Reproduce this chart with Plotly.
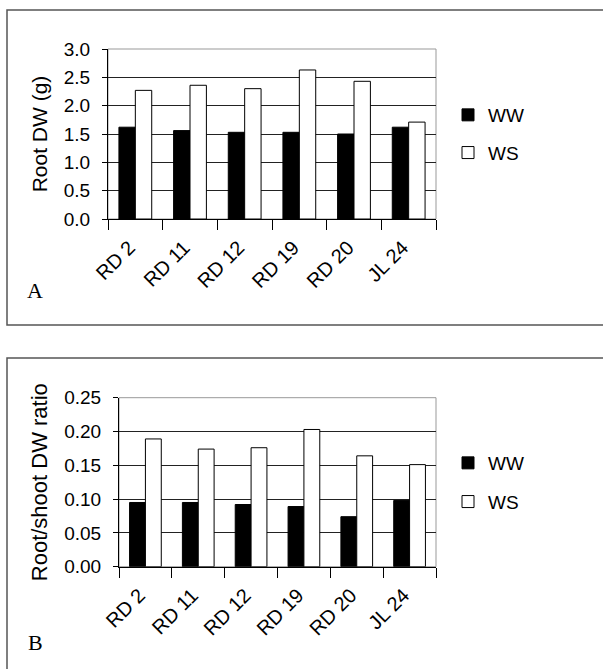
import plotly.graph_objects as go

categories = ["RD 2", "RD 11", "RD 12", "RD 19", "RD 20", "JL 24"]
root_dw_ww = [1.62, 1.56, 1.53, 1.53, 1.50, 1.62]
root_dw_ws = [2.27, 2.36, 2.30, 2.63, 2.43, 1.71]
ratio_ww = [0.095, 0.095, 0.092, 0.089, 0.074, 0.098]
ratio_ws = [0.189, 0.174, 0.176, 0.203, 0.164, 0.151]
series_names = ["WW", "WS"]

W, H = 603, 669
FONT = "Arial, Liberation Sans, sans-serif"

def px(x):
    return x / W

def py(y):
    return 1 - y / H

fig = go.Figure()

fig.add_trace(go.Bar(x=categories, y=root_dw_ww, name=series_names[0], xaxis="x", yaxis="y",
                     marker=dict(color="black", line=dict(color="black", width=1)),
                     legend="legend", legendgroup="a1"))
fig.add_trace(go.Bar(x=categories, y=root_dw_ws, name=series_names[1], xaxis="x", yaxis="y",
                     marker=dict(color="white", line=dict(color="black", width=1)),
                     legend="legend", legendgroup="a2"))
fig.add_trace(go.Bar(x=categories, y=ratio_ww, name=series_names[0], xaxis="x2", yaxis="y2",
                     marker=dict(color="black", line=dict(color="black", width=1)),
                     legend="legend2", legendgroup="b1"))
fig.add_trace(go.Bar(x=categories, y=ratio_ws, name=series_names[1], xaxis="x2", yaxis="y2",
                     marker=dict(color="white", line=dict(color="black", width=1)),
                     legend="legend2", legendgroup="b2"))

xcommon = dict(type="category", showline=True, linecolor="black", linewidth=1,
               ticks="outside", ticklen=10, tickcolor="black", tickson="boundaries",
               tickangle=-45, tickfont=dict(family=FONT, size=20, color="black"),
               ticklabelstandoff=8, ticklabelshift=-6,
               showgrid=False, zeroline=False, automargin=False)
ycommon = dict(showline=True, linecolor="black", linewidth=1, ticks="outside", ticklen=5,
               tickcolor="black", showgrid=True, gridcolor="#222", gridwidth=1,
               ticklabelstandoff=8,
               zeroline=False, tickfont=dict(family=FONT, size=19, color="black"), automargin=False)

legcommon = dict(xanchor="left", yanchor="middle", font=dict(family=FONT, size=19, color="black"),
                 traceorder="grouped", bgcolor="rgba(0,0,0,0)",
                 itemwidth=30, borderwidth=0)

fig.update_layout(
    width=W, height=H,
    margin=dict(l=0, r=0, t=0, b=0, pad=0, autoexpand=False),
    paper_bgcolor="white", plot_bgcolor="white",
    barmode="group", bargap=0.4, bargroupgap=0,
    xaxis=dict(domain=[px(108), px(436)], anchor="y", **xcommon),
    yaxis=dict(domain=[py(219), py(49)], anchor="x", range=[0, 3], dtick=0.5, tickformat=".1f",
               title=dict(text="Root DW (g)", standoff=10, font=dict(family=FONT, size=21, color="black")),
               **ycommon),
    xaxis2=dict(domain=[px(119), px(436)], anchor="y2", **xcommon),
    yaxis2=dict(domain=[py(566.7), py(397.7)], anchor="x2", range=[0, 0.25], dtick=0.05, tickformat=".2f",
                title=dict(text="Root/shoot DW ratio", standoff=10, font=dict(family=FONT, size=22, color="black")),
                **ycommon),
    legend=dict(x=px(448), y=py(134), tracegroupgap=10, **legcommon),
    legend2=dict(x=px(448), y=py(482.5), tracegroupgap=11, **legcommon),
    showlegend=True,
)

# outer frames
fig.add_shape(type="rect", xref="paper", yref="paper", x0=px(7), x1=1.05, y0=py(325), y1=py(10),
              line=dict(color="#555", width=1.5), layer="below")
fig.add_shape(type="rect", xref="paper", yref="paper", x0=px(7), x1=1.05, y0=-0.05, y1=py(358),
              line=dict(color="#555", width=1.5), layer="below")
# plot area borders (grey)
fig.add_shape(type="rect", xref="x domain", yref="y domain", x0=0, x1=1, y0=0, y1=1,
              line=dict(color="#999", width=1), layer="below")
fig.add_shape(type="rect", xref="x2 domain", yref="y2 domain", x0=0, x1=1, y0=0, y1=1,
              line=dict(color="#999", width=1), layer="below")

fig.add_annotation(text="A", xref="paper", yref="paper", x=px(35), y=py(290), showarrow=False,
                   xanchor="center", yanchor="middle",
                   font=dict(family="Liberation Serif, Times New Roman, serif", size=22, color="black"))
fig.add_annotation(text="B", xref="paper", yref="paper", x=px(35), y=py(642), showarrow=False,
                   xanchor="center", yanchor="middle",
                   font=dict(family="Liberation Serif, Times New Roman, serif", size=22, color="black"))

post = ("document.body.style.margin='0';document.body.style.overflow='hidden';")
fig.write_html("out.html", config={"displayModeBar": False}, post_script=post)
